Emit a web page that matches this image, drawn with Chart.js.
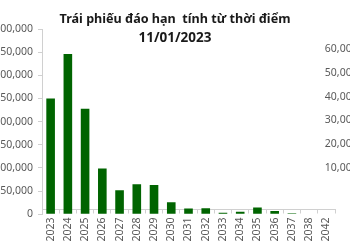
<!DOCTYPE html>
<html>
<head>
<meta charset="utf-8">
<script src="https://cdn.jsdelivr.net/npm/chart.js@4.4.0/dist/chart.umd.min.js"></script>
<style>
  html, body { margin: 0; padding: 0; background: #ffffff; overflow: hidden; width: 350px; height: 250px; }
  #wrap { position: absolute; left: -10px; top: 0; width: 370px; height: 250px; }
</style>
</head>
<body>
<div id="wrap"><canvas id="chart"></canvas></div>
<script>
// Maturing bond volumes by year
const years = ['2023', '2024', '2025', '2026', '2027', '2028', '2029', '2030', '2031',
               '2032', '2033', '2034', '2035', '2036', '2037', '2038', '2042'];
const maturing = [250000, 346000, 228000, 99000, 52000, 65000, 63500, 26000, 12500,
                  13000, 3500, 5500, 14500, 7000, 2000, 0, 0];

// Left axis ticks (0 .. 400,000) and right axis ticks (0 .. 60,000)
const leftTicks = [0, 50000, 100000, 150000, 200000, 250000, 300000, 350000, 400000];
const rightTicks = [0, 10000, 20000, 30000, 40000, 50000, 60000];

const titleText = 'Trái phiếu đáo hạn  tính từ thời điểm';
const dateText = '11/01/2023';

const fmt = v => Number(v).toLocaleString('en-US');
const axisGrey = '#d0d0d0';
const labelGrey = '#595959';

Chart.defaults.font.family = "'Noto Sans', 'Open Sans', sans-serif";
Chart.defaults.font.size = 10.5;
Chart.defaults.color = labelGrey;

new Chart(document.getElementById('chart'), {
  type: 'bar',
  data: {
    labels: years,
    datasets: [{
      data: maturing,
      backgroundColor: '#006400',
      borderWidth: 0,
      barPercentage: 0.5,
      categoryPercentage: 1.0,
      yAxisID: 'y'
    }]
  },
  options: {
    responsive: true,
    maintainAspectRatio: false,
    animation: false,
    layout: { padding: { left: 0, right: 0, top: 0, bottom: 0 } },
    plugins: {
      legend: { display: false },
      tooltip: { enabled: false },
      title: {
        display: true,
        text: titleText,
        color: '#1a1a1a',
        font: { size: 12.6, weight: 'bold', lineHeight: '18.5px' },
        padding: { top: 9, bottom: 0 }
      },
      subtitle: {
        display: true,
        text: dateText,
        color: '#1a1a1a',
        font: { size: 13.5, weight: 'bold', lineHeight: '18.5px' },
        padding: { top: 0, bottom: -23.3 }
      }
    },
    scales: {
      x: {
        grid: { display: true, drawOnChartArea: false, offset: true, color: axisGrey, tickLength: 4 },
        border: { display: true, color: axisGrey },
        ticks: { autoSkip: false, minRotation: 90, maxRotation: 90, padding: 4, color: labelGrey },
        afterFit: s => { s.height = 35.7; }
      },
      y: {
        position: 'left',
        min: 0,
        max: 400000,
        grid: { display: true, drawOnChartArea: false, color: axisGrey, tickLength: 4 },
        border: { display: true, color: axisGrey },
        ticks: { padding: 5, color: labelGrey, callback: v => fmt(v) },
        afterBuildTicks: s => { s.ticks = leftTicks.map(v => ({ value: v })); },
        afterFit: s => { s.width = 52; }
      },
      // secondary value axis at the right edge; labels run past the edge of the canvas
      y2: {
        position: 'right',
        min: -9465,
        max: 68368,
        grid: { display: false, drawTicks: false },
        border: { display: false },
        ticks: { mirror: true, padding: 22.7, color: labelGrey, callback: v => fmt(v) },
        afterBuildTicks: s => { s.ticks = rightTicks.map(v => ({ value: v })); },
        afterFit: s => { s.width = 25; }
      }
    }
  }
});
</script>
</body>
</html>
